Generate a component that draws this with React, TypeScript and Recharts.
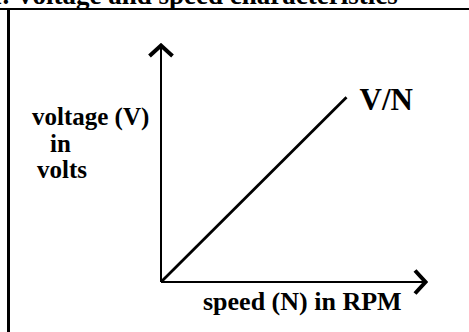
import { Label, LabelList, Line, LineChart, XAxis, YAxis } from "recharts";

// V/N characteristic: a straight line through the origin
const speed = [0, 7];
const voltage = [0, 7.8];
const axisDomain = [0, 10];

const title = "1. Voltage and speed characteristics";
const xTitle = "speed (N) in RPM";
const yTitle = ["voltage (V)", "in", "volts"];
const lineName = "V/N";

const data = speed.map((n, i) => ({ n, v: voltage[i] }));

const serif = "'Liberation Serif', 'Times New Roman', serif";

function EndLabel(props: any) {
  const { x, y, index } = props;
  if (index !== data.length - 1) return null;
  return (
    <text x={x + 13} y={y + 13} fontFamily={serif} fontWeight="bold" fontSize={31} fill="#000">
      {lineName}
    </text>
  );
}

function YTitle(props: any) {
  const { viewBox } = props;
  const x0 = viewBox.x + viewBox.width - 129;
  const y0 = viewBox.y + 80;
  return (
    <text fontFamily={serif} fontWeight="bold" fontSize={25} fill="#000">
      <tspan x={x0} y={y0}>{yTitle[0]}</tspan>
      <tspan x={x0 + 18} y={y0 + 27}>{yTitle[1]}</tspan>
      <tspan x={x0 + 5} y={y0 + 53}>{yTitle[2]}</tspan>
    </text>
  );
}

function XTitle(props: any) {
  const { viewBox } = props;
  return (
    <text x={viewBox.x + 42} y={viewBox.y + 28} fontFamily={serif} fontWeight="bold" fontSize={26} fill="#000">
      {xTitle}
    </text>
  );
}

export default function App() {
  return (
    <div style={{ position: "absolute", left: 0, top: 0, width: 469, height: 332, overflow: "hidden", background: "#fff" }}>
      <div
        style={{
          position: "absolute",
          left: -11,
          top: -18,
          fontFamily: serif,
          fontWeight: "bold",
          fontSize: 27,
          lineHeight: "26px",
          whiteSpace: "nowrap",
          color: "#000",
        }}
      >
        {title}
      </div>
      <div style={{ position: "absolute", left: 0, top: 8, width: 469, height: 2, background: "#000" }} />
      <div style={{ position: "absolute", left: 7, top: 8, width: 3, height: 324, background: "#000" }} />
      <div style={{ position: "absolute", left: 0, top: 0 }}>
        <LineChart width={469} height={332} data={data} margin={{ top: 45, right: 43, bottom: 49, left: 160 }}>
          <defs>
            <marker
              id="chev"
              viewBox="0 0 15 27"
              refX={13}
              refY={13.5}
              markerWidth={15}
              markerHeight={27}
              markerUnits="userSpaceOnUse"
              orient="auto-start-reverse"
            >
              <path d="M2,2 L12.5,13.5 L2,25" fill="none" stroke="#000" strokeWidth={4} strokeLinejoin="miter" />
            </marker>
          </defs>
          <XAxis
            type="number"
            dataKey="n"
            domain={axisDomain}
            height={1}
            tick={false}
            tickLine={false}
            axisLine={{ stroke: "#000", strokeWidth: 2, markerEnd: "url(#chev)" }}
          >
            <Label content={<XTitle />} />
          </XAxis>
          <YAxis
            type="number"
            domain={axisDomain}
            width={1}
            tick={false}
            tickLine={false}
            axisLine={{ stroke: "#000", strokeWidth: 2, markerStart: "url(#chev)" }}
          >
            <Label content={<YTitle />} />
          </YAxis>
          <Line
            type="linear"
            dataKey="v"
            stroke="#000"
            strokeWidth={2.8}
            dot={false}
            isAnimationActive={false}
          >
            <LabelList dataKey="v" content={<EndLabel />} />
          </Line>
        </LineChart>
      </div>
    </div>
  );
}
